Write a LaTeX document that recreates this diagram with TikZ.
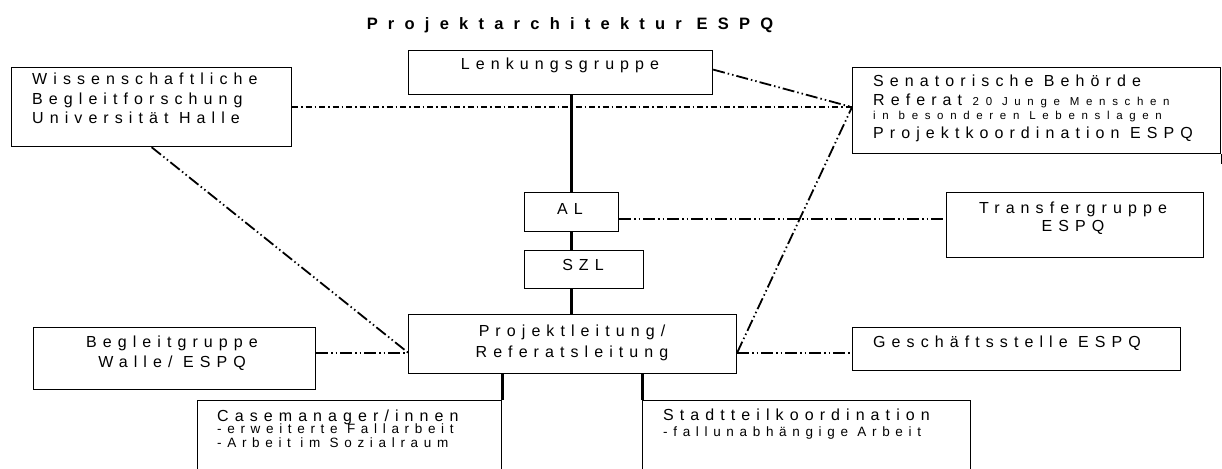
\documentclass[tikz,border=0pt]{standalone}
\usepackage{fontspec}
\setmainfont{Liberation Sans}
\newfontfamily\widefont[LetterSpace=38]{Liberation Sans}
\newfontfamily\subfont[LetterSpace=42]{Liberation Sans}
\newfontfamily\smallfont[LetterSpace=58]{Liberation Sans}
\newfontfamily\titlefont[LetterSpace=62]{Liberation Sans}
\newcommand{\txtmain}{\widefont\fontsize{16}{19.5}\selectfont}
\newcommand{\txtsub}{\subfont\fontsize{13.5}{13.5}\selectfont}
\newcommand{\txtsmall}{\smallfont\fontsize{11.5}{13}\selectfont}
\newcommand{\txttitle}{\titlefont\bfseries\fontsize{16.5}{20}\selectfont}
\usetikzlibrary{calc}

\begin{document}
\begin{tikzpicture}[x=1pt, y=-1pt,
  box/.style={draw, line width=1.2pt, inner sep=0pt, anchor=north west},
  lbl/.style={inner sep=0pt, font=\txtmain},
  link/.style={line width=3pt},
  dashdot/.style={line width=1.7pt, dash pattern=on 6pt off 3pt on 1.5pt off 3pt},
  dashdotdot/.style={line width=1.8pt, dash pattern=on 12pt off 3pt on 1.5pt off 3pt on 1.5pt off 3pt}]
\clip (0,0) rectangle (1222,468);
% boxes
\node[box, minimum width=280pt, minimum height=79pt] (wiss) at (11,67) {};
\node[box, minimum width=304pt, minimum height=44pt] (lenk) at (408,50) {};
\node[box, minimum width=368pt, minimum height=86pt] (senat) at (852,67) {};
\node[box, minimum width=94pt, minimum height=39pt] (al) at (524,192) {};
\node[box, minimum width=119pt, minimum height=38pt] (szl) at (524,250) {};
\node[box, minimum width=257pt, minimum height=65pt] (transfer) at (946,192) {};
\node[box, minimum width=328pt, minimum height=59pt] (projekt) at (408,314) {};
\node[box, minimum width=282pt, minimum height=62pt] (begleit) at (33,327) {};
\node[box, minimum width=328pt, minimum height=43pt] (gesch) at (852,327) {};
\node[box, minimum width=304pt, minimum height=80pt] (case) at (197,400) {};
\node[box, minimum width=328pt, minimum height=80pt] (stadt) at (642,400) {};
\draw[line width=1.2pt] (senat.south east) -- ++(0,10);
% texts (multi-line: anchored at the last baseline)
\path (570,30) node[inner sep=0pt, anchor=base, font=\txttitle] (titel) {Projektarchitektur ESPQ};
\path (32,124) node[lbl, anchor=base west, align=left] (wisstxt) {Wissenschaftliche\\Begleitforschung\\Universität Halle};
\path (560,70) node[lbl, anchor=base] (lenktxt) {Lenkungsgruppe};
\path (873,139) node[lbl, anchor=base west, align=left] (senattxt) {Senatorische Behörde\\Referat {\txtsmall 20 Junge Menschen}\\[-6.5pt]{\txtsmall in besonderen Lebenslagen}\\[0.5pt]Projektkoordination ESPQ};
\path (570,214) node[lbl, anchor=base] (altxt) {AL};
\path (583,270) node[lbl, anchor=base] (szltxt) {SZL};
\path (1073,231) node[lbl, anchor=base, align=center] (transfertxt) {Transfergruppe\\[-1.5pt]ESPQ};
\path (572,357) node[lbl, anchor=base, align=center] (projekttxt) {Projektleitung/\\[1.5pt]Referatsleitung};
\path (172,367) node[lbl, anchor=base, align=center] (begleittxt) {Begleitgruppe\\Walle/ ESPQ};
\path (873,347) node[lbl, anchor=base west] (geschtxt) {Geschäftsstelle ESPQ};
\path (217,447) node[lbl, anchor=base west, align=left] (casetxt) {Casemanager/innen\\[-7pt]{\txtsub -erweiterte Fallarbeit}\\[-6pt]{\txtsub -Arbeit im Sozialraum}};
\path (663,436) node[lbl, anchor=base west, align=left] (stadttxt) {Stadtteilkoordination\\[-3.5pt]{\txtsub -fallunabhängige Arbeit}};
% hierarchy
\draw[link] (al.north) -- (al.north |- lenk.south);
\draw[link] (al.south) -- (al.south |- szl.north);
\draw[link] (al.south |- szl.south) -- (al.south |- projekt.north);
\draw[link] (case.north east) -- (case.north east |- projekt.south);
\draw[link] (stadt.north west) -- (stadt.north west |- projekt.south);
% dash-dot connections
\coordinate (senatin) at (wiss.east -| senat.west);
\coordinate (projl) at ([yshift=-8.5pt]projekt.west);
\coordinate (projr) at ([yshift=-8.5pt]projekt.east);
\draw[dashdot] (wiss.east) -- (senatin);
\draw[dashdotdot] ([yshift=3pt]lenk.east) -- (senatin);
\draw[dashdotdot] (wiss.south) -- (projl);
\draw[dashdotdot] (projl -| begleit.east) -- (projl);
\draw[dashdotdot] (projr) -- (senatin);
\draw[dashdotdot] (projr) -- (projr -| gesch.west);
\draw[dashdotdot] ([yshift=-6.5pt]al.east) -- ([yshift=-6.5pt]al.east -| transfer.west);
\end{tikzpicture}
\end{document}
